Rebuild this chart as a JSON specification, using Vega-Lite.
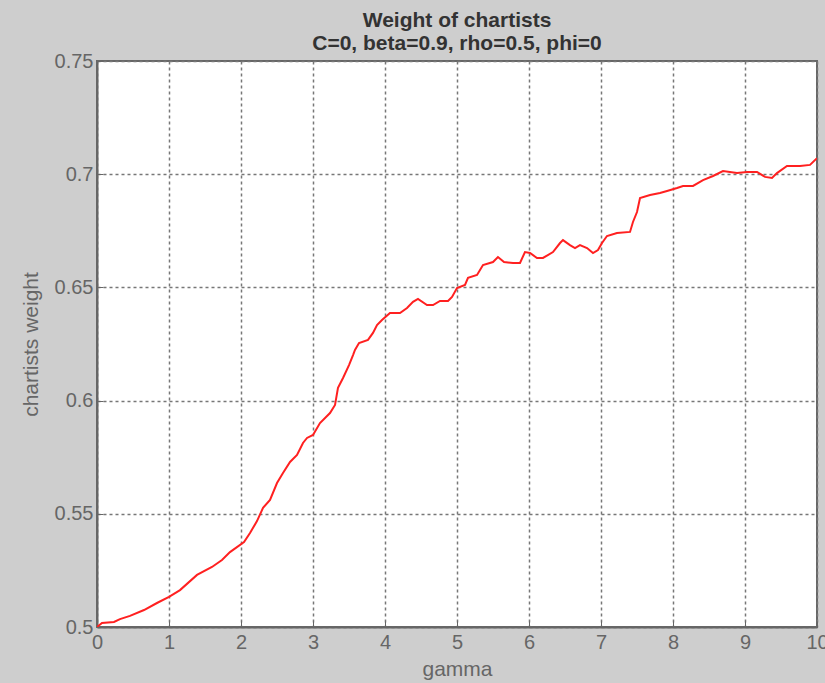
{
  "$schema": "https://vega.github.io/schema/vega-lite/v6.json",
  "autosize": "none",
  "width": 720,
  "height": 566,
  "padding": {"left": 97, "top": 61, "right": 8, "bottom": 56},
  "background": "#cecece",
  "title": {
    "text": "Weight of chartists",
    "subtitle": "C=0, beta=0.9, rho=0.5, phi=0",
    "font": "Liberation Sans",
    "fontSize": 21,
    "fontWeight": "bold",
    "color": "#333333",
    "subtitleFont": "Liberation Sans",
    "subtitleFontSize": 21,
    "subtitleFontWeight": "bold",
    "subtitleColor": "#333333",
    "subtitlePadding": 2,
    "offset": -3,
    "anchor": "middle"
  },
  "config": {
    "view": {"stroke": "#666666", "strokeWidth": 2, "fill": "white"},
    "axis": {
      "labelFont": "Liberation Sans",
      "labelFontSize": 20,
      "labelColor": "#666666",
      "labelFlush": false,
      "titleFont": "Liberation Sans",
      "titleFontSize": 21,
      "titleFontWeight": "normal",
      "titleColor": "#666666",
      "domainColor": "#666666",
      "domainWidth": 2,
      "gridColor": "#777777",
      "gridDash": [3, 3],
      "gridWidth": 1.5,
      "gridOpacity": 1,
      "tickColor": "#666666",
      "tickSize": -6
    }
  },
  "data": {
    "values": [
      {"gamma": 0.0, "w": 0.5},
      {"gamma": 0.069, "w": 0.5018},
      {"gamma": 0.236, "w": 0.5022},
      {"gamma": 0.319, "w": 0.5035},
      {"gamma": 0.458, "w": 0.5049},
      {"gamma": 0.653, "w": 0.5075},
      {"gamma": 0.833, "w": 0.5106},
      {"gamma": 1.0, "w": 0.5133},
      {"gamma": 1.153, "w": 0.5163},
      {"gamma": 1.389, "w": 0.523},
      {"gamma": 1.597, "w": 0.5265},
      {"gamma": 1.736, "w": 0.5296},
      {"gamma": 1.847, "w": 0.5331},
      {"gamma": 2.042, "w": 0.5375},
      {"gamma": 2.125, "w": 0.5415},
      {"gamma": 2.222, "w": 0.5468},
      {"gamma": 2.306, "w": 0.5526},
      {"gamma": 2.403, "w": 0.5561},
      {"gamma": 2.5, "w": 0.5636},
      {"gamma": 2.583, "w": 0.568},
      {"gamma": 2.681, "w": 0.5729},
      {"gamma": 2.778, "w": 0.576},
      {"gamma": 2.861, "w": 0.5813},
      {"gamma": 2.917, "w": 0.5835},
      {"gamma": 3.0, "w": 0.5848},
      {"gamma": 3.097, "w": 0.5901},
      {"gamma": 3.236, "w": 0.5945},
      {"gamma": 3.306, "w": 0.5981},
      {"gamma": 3.347, "w": 0.6056},
      {"gamma": 3.417, "w": 0.61},
      {"gamma": 3.5, "w": 0.6157},
      {"gamma": 3.556, "w": 0.6201},
      {"gamma": 3.583, "w": 0.6224},
      {"gamma": 3.639, "w": 0.6254},
      {"gamma": 3.764, "w": 0.6268},
      {"gamma": 3.833, "w": 0.6299},
      {"gamma": 3.889, "w": 0.6334},
      {"gamma": 3.958, "w": 0.6356},
      {"gamma": 4.069, "w": 0.6387},
      {"gamma": 4.208, "w": 0.6387},
      {"gamma": 4.306, "w": 0.6409},
      {"gamma": 4.389, "w": 0.6436},
      {"gamma": 4.458, "w": 0.6449},
      {"gamma": 4.583, "w": 0.6422},
      {"gamma": 4.667, "w": 0.6422},
      {"gamma": 4.764, "w": 0.644},
      {"gamma": 4.875, "w": 0.644},
      {"gamma": 4.931, "w": 0.6458},
      {"gamma": 5.0, "w": 0.6497},
      {"gamma": 5.111, "w": 0.6511},
      {"gamma": 5.153, "w": 0.6542},
      {"gamma": 5.278, "w": 0.6555},
      {"gamma": 5.361, "w": 0.6599},
      {"gamma": 5.5, "w": 0.6612},
      {"gamma": 5.569, "w": 0.6634},
      {"gamma": 5.653, "w": 0.6612},
      {"gamma": 5.778, "w": 0.6608},
      {"gamma": 5.875, "w": 0.6608},
      {"gamma": 5.944, "w": 0.6656},
      {"gamma": 6.014, "w": 0.6652},
      {"gamma": 6.111, "w": 0.663},
      {"gamma": 6.194, "w": 0.663},
      {"gamma": 6.333, "w": 0.6656},
      {"gamma": 6.431, "w": 0.6696},
      {"gamma": 6.472, "w": 0.6709},
      {"gamma": 6.569, "w": 0.6687},
      {"gamma": 6.639, "w": 0.6674},
      {"gamma": 6.708, "w": 0.6687},
      {"gamma": 6.806, "w": 0.6674},
      {"gamma": 6.889, "w": 0.6652},
      {"gamma": 6.958, "w": 0.6665},
      {"gamma": 7.014, "w": 0.6696},
      {"gamma": 7.083, "w": 0.6727},
      {"gamma": 7.222, "w": 0.674},
      {"gamma": 7.403, "w": 0.6745},
      {"gamma": 7.444, "w": 0.6789},
      {"gamma": 7.5, "w": 0.6833},
      {"gamma": 7.542, "w": 0.6895},
      {"gamma": 7.681, "w": 0.6908},
      {"gamma": 7.819, "w": 0.6917},
      {"gamma": 7.917, "w": 0.6926},
      {"gamma": 8.056, "w": 0.6939},
      {"gamma": 8.139, "w": 0.6948},
      {"gamma": 8.278, "w": 0.6948},
      {"gamma": 8.417, "w": 0.6974},
      {"gamma": 8.556, "w": 0.6992},
      {"gamma": 8.694, "w": 0.7014},
      {"gamma": 8.889, "w": 0.7005},
      {"gamma": 9.028, "w": 0.701},
      {"gamma": 9.167, "w": 0.701},
      {"gamma": 9.278, "w": 0.6988},
      {"gamma": 9.375, "w": 0.6983},
      {"gamma": 9.444, "w": 0.7005},
      {"gamma": 9.583, "w": 0.7036},
      {"gamma": 9.764, "w": 0.7036},
      {"gamma": 9.903, "w": 0.7041},
      {"gamma": 10.0, "w": 0.7071}
    ]
  },
  "mark": {"type": "line", "color": "#ff2020", "strokeWidth": 2, "clip": true},
  "encoding": {
    "x": {
      "field": "gamma",
      "type": "quantitative",
      "scale": {"domain": [0, 10], "nice": false, "zero": false},
      "axis": {"values": [0,1,2,3,4,5,6,7,8,9,10], "title": "gamma", "titlePadding": 6, "labelPadding": 11, "format": "d"}
    },
    "y": {
      "field": "w",
      "type": "quantitative",
      "scale": {"domain": [0.5, 0.75], "nice": false, "zero": false},
      "axis": {"values": [0.5, 0.55, 0.6, 0.65, 0.7, 0.75], "title": "chartists weight", "titlePadding": 13, "labelPadding": 10, "format": "~g"}
    }
  }
}
